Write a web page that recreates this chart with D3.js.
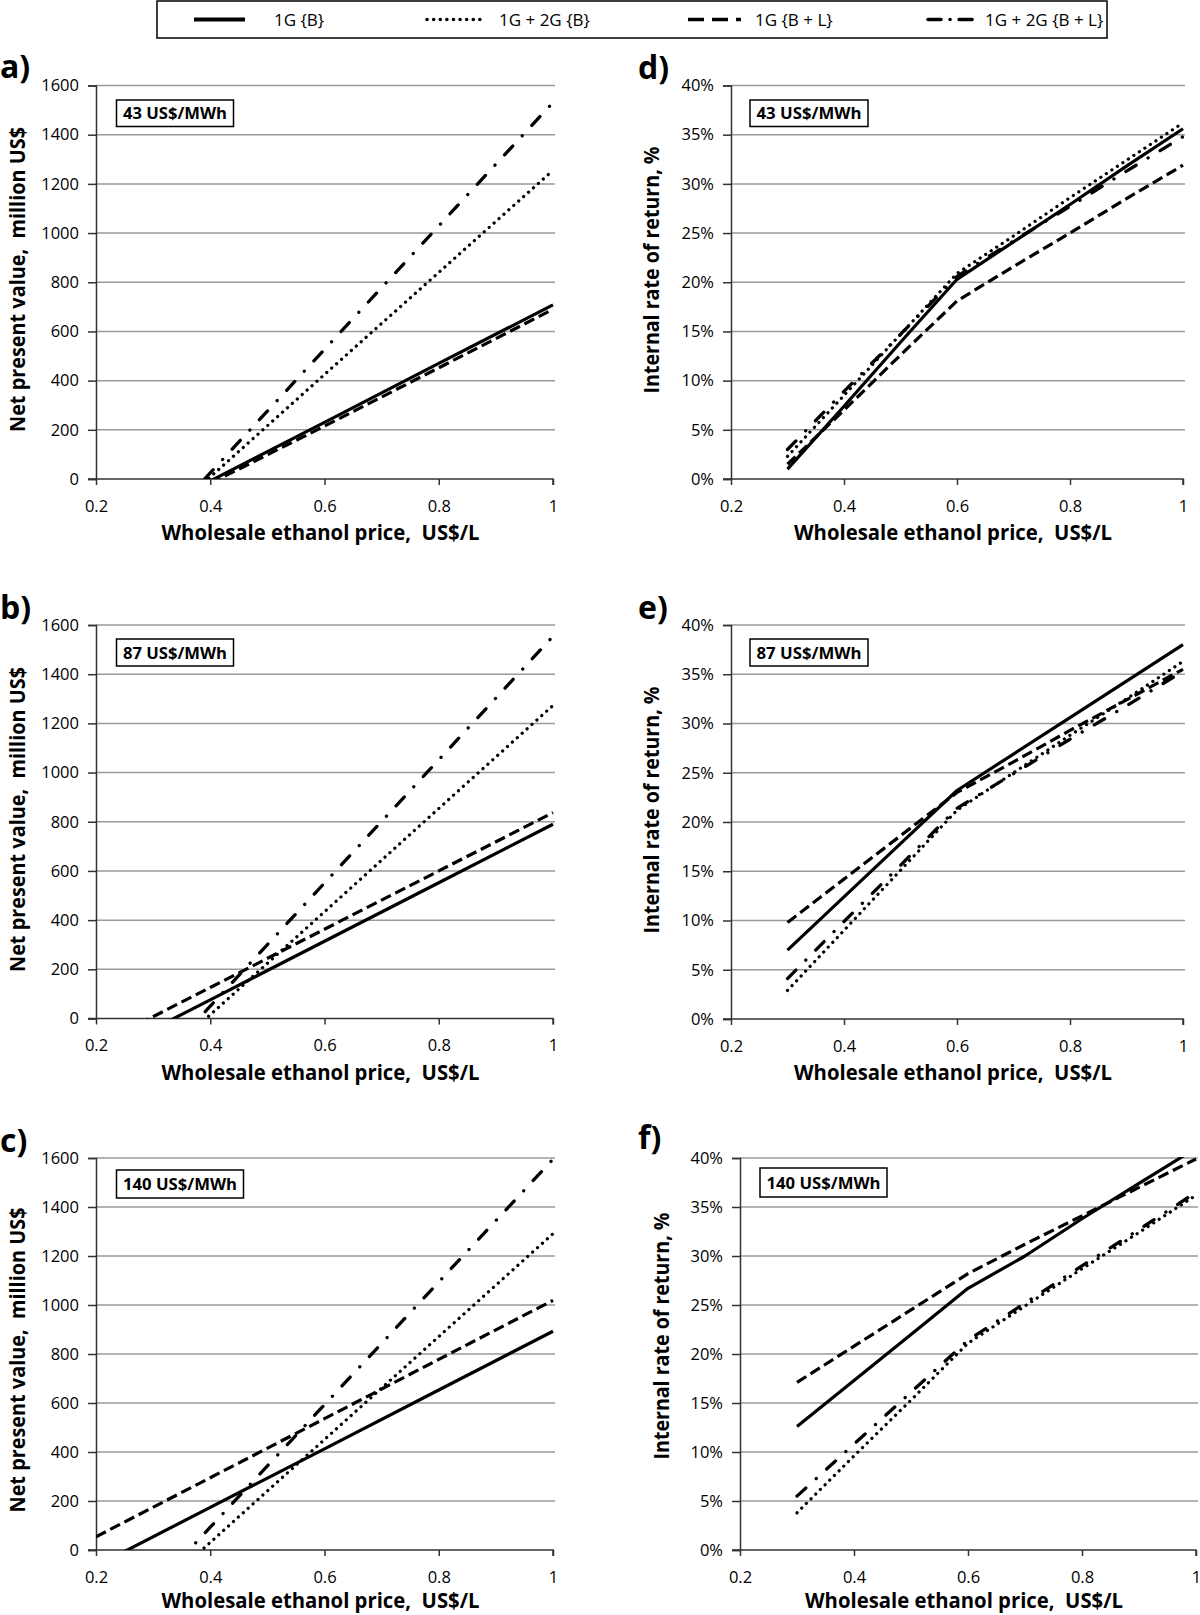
<!DOCTYPE html>
<html><head><meta charset="utf-8">
<script src="https://cdn.jsdelivr.net/npm/d3@7"></script>
<style>
html,body{margin:0;padding:0;background:#fff;}
svg text{font-family:"Open Sans",sans-serif;fill:#000;white-space:pre;}
</style></head>
<body>
<svg id="chart" width="1200" height="1615"></svg>
<script>
// ---------- data ----------
const seriesNames = ["1G {B}", "1G + 2G {B}", "1G {B + L}", "1G + 2G {B + L}"];
const priceNPV = [0.2, 0.4, 0.6, 0.8, 1.0];
const priceIRR = [0.3, 0.4, 0.5, 0.6, 0.7, 0.8, 0.9, 1.0];
const xTicks = [0.2, 0.4, 0.6, 0.8, 1];
const npvTicks = [0, 200, 400, 600, 800, 1000, 1200, 1400, 1600];
const irrTicks = [0, 5, 10, 15, 20, 25, 30, 35, 40];
const tariffs = ["43 US$/MWh", "87 US$/MWh", "140 US$/MWh"];

// a) NPV, 43 US$/MWh
const a_1G_B    = [-240, -8, 230, 470, 708];
const a_1G2G_B  = [-410, 8, 425, 840, 1255];
const a_1G_BL   = [-250, -18, 215, 452, 690];
const a_1G2G_BL = [-477, 25, 527, 1029, 1531];
// b) NPV, 87 US$/MWh
const b_1G_B    = [-162, 76, 314, 552, 790];
const b_1G2G_B  = [-405, 15, 434, 854, 1273];
const b_1G_BL   = [-111, 126, 363, 600, 837];
const b_1G2G_BL = [-450, 50, 551, 1052, 1554];
// c) NPV, 140 US$/MWh
const c_1G_B    = [-66, 174, 413, 653, 893];
const c_1G2G_B  = [-388, 31, 451, 871, 1291];
const c_1G_BL   = [54, 295, 536, 778, 1019];
const c_1G2G_BL = [-408, 93, 593, 1094, 1595];
// d) IRR %, 43 US$/MWh
const d_1G_B    = [1.0, 7.4, 13.9, 20.3, 24.1, 27.9, 31.8, 35.6];
const d_1G2G_B  = [2.3, 8.5, 14.7, 20.9, 24.7, 28.6, 32.4, 36.2];
const d_1G_BL   = [1.5, 7.0, 12.6, 18.1, 21.6, 25.0, 28.5, 31.9];
const d_1G2G_BL = [3.0, 8.9, 14.7, 20.6, 24.2, 27.7, 31.3, 34.8];
// e) IRR %, 87 US$/MWh
const e_1G_B    = [7.0, 12.4, 17.8, 23.2, 26.9, 30.6, 34.3, 38.0];
const e_1G2G_B  = [2.9, 9.0, 15.1, 21.2, 25.0, 28.8, 32.5, 36.3];
const e_1G_BL   = [9.8, 14.2, 18.6, 23.0, 26.1, 29.3, 32.4, 35.5];
const e_1G2G_BL = [4.1, 9.9, 15.6, 21.4, 24.9, 28.4, 31.8, 35.3];
// f) IRR %, 140 US$/MWh
const f_1G_B    = [12.6, 17.3, 22.0, 26.7, 30.0, 33.8, 37.4, 41.0];
const f_1G2G_B  = [3.8, 9.6, 15.3, 21.1, 24.9, 28.7, 32.4, 36.2];
const f_1G_BL   = [17.1, 20.8, 24.5, 28.2, 31.2, 34.1, 37.0, 39.9];
const f_1G2G_BL = [5.5, 10.8, 16.1, 21.4, 25.2, 29.0, 32.7, 36.5];

// ---------- styles ----------
const lineStyles = [
  {width: 3.2, dash: null, cap: "butt"},
  {width: 3.2, dash: "0.1 6.5", cap: "round"},
  {width: 3.2, dash: "11 5", cap: "butt"},
  {width: 3.3, dash: "12 14 0.1 14", cap: "round"}
];

const panels = [
  {id:"a", kind:"npv", tariff:tariffs[0], xs:priceNPV, data:[a_1G_B,a_1G2G_B,a_1G_BL,a_1G2G_BL],
   x0:96, x1:553, yT:85.5, yB:479, lab:[0,78], ytc:[16,279.5], box:[116.5,100,117,26.5], xt:53},
  {id:"b", kind:"npv", tariff:tariffs[1], xs:priceNPV, data:[b_1G_B,b_1G2G_B,b_1G_BL,b_1G2G_BL],
   x0:96, x1:553, yT:625, yB:1018.5, lab:[0,619], ytc:[16,819.5], box:[116.5,639,117,27], xt:53},
  {id:"c", kind:"npv", tariff:tariffs[2], xs:priceNPV, data:[c_1G_B,c_1G2G_B,c_1G_BL,c_1G2G_BL],
   x0:96, x1:553, yT:1158, yB:1550, lab:[0,1152], ytc:[16,1360], box:[116.5,1170,127,28], xt:50},
  {id:"d", kind:"irr", tariff:tariffs[0], xs:priceIRR, data:[d_1G_B,d_1G2G_B,d_1G_BL,d_1G2G_BL],
   x0:731, x1:1183, yT:85.5, yB:479, lab:[638,79], ytc:[650,270], box:[750,100,118,26.5], xt:53},
  {id:"e", kind:"irr", tariff:tariffs[1], xs:priceIRR, data:[e_1G_B,e_1G2G_B,e_1G_BL,e_1G2G_BL],
   x0:731, x1:1183, yT:625, yB:1019, lab:[638,619], ytc:[650,810], box:[750,639,118,27], xt:53},
  {id:"f", kind:"irr", tariff:tariffs[2], xs:priceIRR, data:[f_1G_B,f_1G2G_B,f_1G_BL,f_1G2G_BL],
   x0:740, x1:1196, yT:1158, yB:1550, lab:[638,1149], ytc:[660,1336], box:[760,1168,127,29], xt:50}
];

const svg = d3.select("#chart");
const defs = svg.append("defs");

panels.forEach(p => {
  const x = d3.scaleLinear().domain([0.2, 1]).range([p.x0, p.x1]);
  const y = p.kind === "npv"
    ? d3.scaleLinear().domain([0, 1600]).range([p.yB, p.yT])
    : d3.scaleLinear().domain([0, 40]).range([p.yB, p.yT]);
  const yTicks = p.kind === "npv" ? npvTicks : irrTicks;
  const g = svg.append("g");

  // gridlines
  g.append("g").selectAll("line").data(yTicks.filter(t => t > 0)).join("line")
    .attr("x1", p.x0).attr("x2", p.x1 + 2)
    .attr("y1", d => y(d)).attr("y2", d => y(d))
    .attr("stroke", "#9a9a9a").attr("stroke-width", 1.5);

  // y axis
  const yAxis = d3.axisLeft(y).tickValues(yTicks).tickSize(8).tickPadding(9)
    .tickFormat(d => p.kind === "npv" ? d : d + "%");
  const ya = g.append("g").attr("transform", `translate(${p.x0},0)`).call(yAxis);
  ya.select(".domain").attr("stroke", "#333").attr("stroke-width", 1.5);
  ya.selectAll(".tick line").attr("stroke", "#333").attr("stroke-width", 1.5);
  ya.selectAll(".tick text").attr("font-size", 16.5).attr("font-family", "Open Sans, sans-serif").attr("fill", "#000");

  // x axis
  const xAxis = d3.axisBottom(x).tickValues(xTicks).tickSize(6).tickPadding(15)
    .tickFormat(d => d === 1 ? "1" : d3.format(".1f")(d));
  const xa = g.append("g").attr("transform", `translate(0,${p.yB})`).call(xAxis);
  xa.select(".domain").attr("stroke", "#333").attr("stroke-width", 1.5)
    .attr("d", `M${p.x0 - 8},0H${p.x1}V6`);
  xa.selectAll(".tick line").attr("stroke", "#333").attr("stroke-width", 1.5);
  xa.selectAll(".tick text").attr("font-size", 16.5).attr("font-family", "Open Sans, sans-serif").attr("fill", "#000");

  // clip
  const cid = "clip-" + p.id;
  defs.append("clipPath").attr("id", cid).append("rect")
    .attr("x", p.x0).attr("y", p.yT - 1).attr("width", p.x1 - p.x0 + 2).attr("height", p.yB - p.yT + 1);

  const line = d3.line().x(d => x(d[0])).y(d => y(d[1]));
  const lg = g.append("g").attr("clip-path", `url(#${cid})`);
  p.data.forEach((vals, i) => {
    const st = lineStyles[i];
    lg.append("path")
      .datum(p.xs.map((xv, k) => [xv, vals[k]]))
      .attr("d", line)
      .attr("fill", "none").attr("stroke", "#000")
      .attr("stroke-width", st.width)
      .attr("stroke-linecap", st.cap)
      .attr("stroke-linejoin", "round")
      .attr("stroke-dasharray", st.dash);
  });

  // annotation box
  g.append("rect").attr("x", p.box[0]).attr("y", p.box[1]).attr("width", p.box[2]).attr("height", p.box[3])
    .attr("fill", "#fff").attr("stroke", "#000").attr("stroke-width", 1.5);
  g.append("text").attr("x", p.box[0] + p.box[2] / 2).attr("y", p.box[1] + p.box[3] / 2)
    .attr("text-anchor", "middle").attr("dominant-baseline", "central")
    .attr("font-size", 16).attr("font-weight", "bold")
    .attr("textLength", p.box[2] - 13).attr("lengthAdjust", "spacingAndGlyphs")
    .text(p.tariff);

  // x title
  g.append("text").attr("x", (p.x0 + p.x1) / 2 - 4).attr("y", p.yB + p.xt)
    .attr("text-anchor", "middle").attr("dominant-baseline", "central")
    .attr("font-size", 21).attr("font-weight", "bold")
    .attr("textLength", 318).attr("lengthAdjust", "spacingAndGlyphs")
    .text("Wholesale ethanol price,  US$/L");

  // y title
  const yt = p.kind === "npv" ? "Net present value,  million US$" : "Internal rate of return, %";
  g.append("text").attr("transform", `translate(${p.ytc[0]},${p.ytc[1]}) rotate(-90)`)
    .attr("text-anchor", "middle").attr("dominant-baseline", "central")
    .attr("font-size", 22).attr("font-weight", "bold")
    .attr("textLength", p.kind === "npv" ? 305 : 247).attr("lengthAdjust", "spacingAndGlyphs")
    .text(yt);

  // panel label
  g.append("text").attr("x", p.lab[0]).attr("y", p.lab[1])
    .attr("font-size", 32).attr("font-weight", "bold").text(p.id + ")");
});

// ---------- legend ----------
const leg = svg.append("g");
leg.append("rect").attr("x", 157).attr("y", 1).attr("width", 950).attr("height", 37)
  .attr("fill", "#fff").attr("stroke", "#000").attr("stroke-width", 1.5);
const legItems = [
  {l0:194, l1:245, tx:274},
  {l0:427, l1:482, tx:499},
  {l0:688, l1:741, tx:755},
  {l0:928, l1:978, tx:985}
];
legItems.forEach((it, i) => {
  const st = lineStyles[i];
  leg.append("line").attr("x1", it.l0).attr("x2", it.l1).attr("y1", 19.5).attr("y2", 19.5)
    .attr("stroke", "#000").attr("stroke-width", i === 0 ? 4 : 3.5)
    .attr("stroke-linecap", st.cap).attr("stroke-dasharray", i === 3 ? "13 9 0.1 9" : (i === 2 ? "16 8" : st.dash));
  leg.append("text").attr("x", it.tx).attr("y", 19.5).attr("dominant-baseline", "central")
    .attr("font-size", 17).text(seriesNames[i]);
});
</script>
</body></html>
